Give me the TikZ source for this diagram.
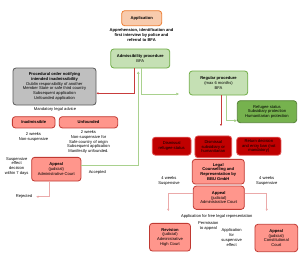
\documentclass[tikz,border=0pt]{standalone}
\usepackage{fontspec}
\setmainfont{Liberation Sans}
\usetikzlibrary{arrows.meta, positioning, calc}
\definecolor{orfill}{RGB}{248,203,173}
\definecolor{ordraw}{RGB}{237,125,49}
\definecolor{gfill} {RGB}{197,224,180}
\definecolor{gdraw} {RGB}{112,173,71}
\definecolor{dgfill}{RGB}{118,178,78}
\definecolor{dgdraw}{RGB}{84,130,53}
\definecolor{grfill}{RGB}{191,191,191}
\definecolor{grdraw}{RGB}{89,89,89}
\definecolor{sfill} {RGB}{255,150,140}
\definecolor{sdraw} {RGB}{192,57,50}
\definecolor{drfill}{RGB}{192,0,0}
\definecolor{drdraw}{RGB}{225,80,80}
\definecolor{rline} {RGB}{200,60,60}
\definecolor{pline} {RGB}{235,170,170}
\definecolor{gline} {RGB}{169,209,142}

\begin{document}
\begin{tikzpicture}[x=1pt, y=-1pt,
  font=\fontsize{4.1}{4.7}\selectfont,
  box/.style={rounded corners=3pt, line width=0.8pt, align=center, inner sep=0pt},
  orangebox/.style={box, fill=orfill, draw=ordraw},
  greenbox/.style={box, fill=gfill, draw=gdraw},
  dgreenbox/.style={box, fill=dgfill, draw=dgdraw},
  graybox/.style={box, fill=grfill, draw=grdraw},
  salmonbox/.style={box, fill=sfill, draw=sdraw},
  dredbox/.style={box, fill=drfill, draw=drdraw},
  note/.style={align=center, inner sep=0pt},
  redline/.style={draw=rline, line width=0.5pt, -{Triangle[length=2pt,width=2pt]}},
  pinkline/.style={draw=pline, line width=0.5pt, -{Triangle[length=2pt,width=2pt,fill=rline]}},
  greenline/.style={draw=gline, line width=0.5pt, -{Triangle[length=2.5pt,width=2.5pt,fill=gdraw]}}
]
\useasboundingbox (0,0) rectangle (300,257);

% top
\node[orangebox, minimum width=40pt, minimum height=15pt] (app) at (141.7,18.2) {\textbf{Application}};
\node[note] (appr) at (141.5,35) {\textbf{Apprehension, identification and}\\\textbf{first interview by police and}\\\textbf{referral to BFA}};
\node[greenbox, minimum width=59pt, minimum height=19pt] (adm) at (140.3,58.5) {\textbf{Admissibility procedure}\\BFA};

% admissibility branch
\node[graybox, minimum width=83pt, minimum height=37pt] (proc) at (54.5,86.5)
  {\textbf{Procedural order notifying}\\\textbf{intended inadmissibility}\\Dublin responsibility of another\\Member State or safe third country\\Subsequent application\\Unfounded application};
\node[note] (advice) at (55,109.5) {Mandatory legal advice};
\node[salmonbox, minimum width=42.7pt, minimum height=11.3pt] (inad) at (33.7,122.3) {\textbf{Inadmissible}};
\node[salmonbox, minimum width=58.4pt, minimum height=11.3pt] (unf) at (88.5,122.3) {\textbf{Unfounded}};
\node[note] (inadnote) at (33.5,137) {2 weeks\\Non-suspensive};
\node[note] (unfnote) at (88.5,142.2) {2 weeks\\Non-suspensive for\\Safe country of origin\\Subsequent application\\Manifestly unfounded.};
\node[salmonbox, minimum width=49.3pt, minimum height=23.7pt] (appL) at (56.3,169.2) {\textbf{Appeal}\\(judicial)\\Administrative Court};
\node[note] (susp) at (16.7,166) {Suspensive\\effect\\decision\\within 7 days};
\node[note] (acc) at (97.3,172.3) {Accepted};
\node[note] (rej) at (24,196.7) {Rejected};

% regular branch
\node[greenbox, minimum width=58.5pt, minimum height=24pt] (reg) at (218.5,83) {\textbf{Regular procedure}\\(max 6 months)\\BFA};
\node[dgreenbox, minimum width=59.4pt, minimum height=22pt] (ref) at (267,111.7) {Refugee status\\Subsidiary protection\\Humanitarian protection};
\coordinate (regdown) at (221,126);
\node[dredbox, minimum width=38.7pt, minimum height=18pt] (dis1) at (171.7,146.2) {Dismissal\\refugee status};
\node[dredbox, minimum width=36.7pt, minimum height=21.7pt] (dis2) at (213.3,146.8) {Dismissal\\subsidiary or\\humanitarian};
\node[dredbox, minimum width=44.3pt, minimum height=18pt] (ret) at (258.8,146.2) {Return decision\\and entry ban (not\\mandatory)};
\node[salmonbox, minimum width=52pt, minimum height=24.7pt] (legal) at (218.3,171.7) {\textbf{Legal}\\\textbf{Counselling and}\\\textbf{Representation by}\\\textbf{BBU GmbH}};
\node[note] (wkL) at (169,180.7) {4 weeks\\Suspensive};
\node[note] (wkR) at (266.7,180.7) {4 weeks\\Suspensive};
\node[salmonbox, minimum width=51pt, minimum height=23.3pt] (appM) at (218.8,197.7) {\textbf{Appeal}\\(judicial)\\Administrative Court};
\node[note] (free) at (216.7,216.3) {Application for free legal representation};
\node[note] (perm) at (208.3,225.7) {Permission\\to appeal};
\node[note] (suspeff) at (231.7,237.5) {Application\\for\\suspensive\\effect};
\node[salmonbox, minimum width=41pt, minimum height=27.7pt] (rev) at (170,237.2) {\textbf{Revision}\\(judicial)\\Administrative\\High Court};
\node[salmonbox, minimum width=42.7pt, minimum height=27.4pt] (appC) at (276.3,238) {\textbf{Appeal}\\(judicial)\\Constitutional\\Court};

% connectors
\draw[redline] ([xshift=-6pt]adm.south) |- ([yshift=-6.8pt]proc.east);
\draw[greenline, shorten >=10pt] ([xshift=1pt]adm.south) |- ([yshift=-11pt]reg.west);
\draw[greenline, shorten >=3pt] ([yshift=3.5pt]appL.east) -| ([xshift=-2pt]adm.south);
\draw[pinkline, shorten >=4pt] ([xshift=-7pt]appL.south) |- (rej.east);
\draw[greenline] ([xshift=7.5pt]reg.south) |- ([yshift=-9pt]ref.west);
\draw[redline] ([xshift=2.5pt]reg.south) -- (regdown);
\draw[pinkline, shorten >=12pt] ([yshift=4.4pt]appM.west) -| ([xshift=-1.7pt]rev.north);
\draw[pinkline, shorten >=13pt] ([yshift=4.4pt]appM.east) -| ([xshift=-9.6pt]appC.north);
\end{tikzpicture}
\end{document}
